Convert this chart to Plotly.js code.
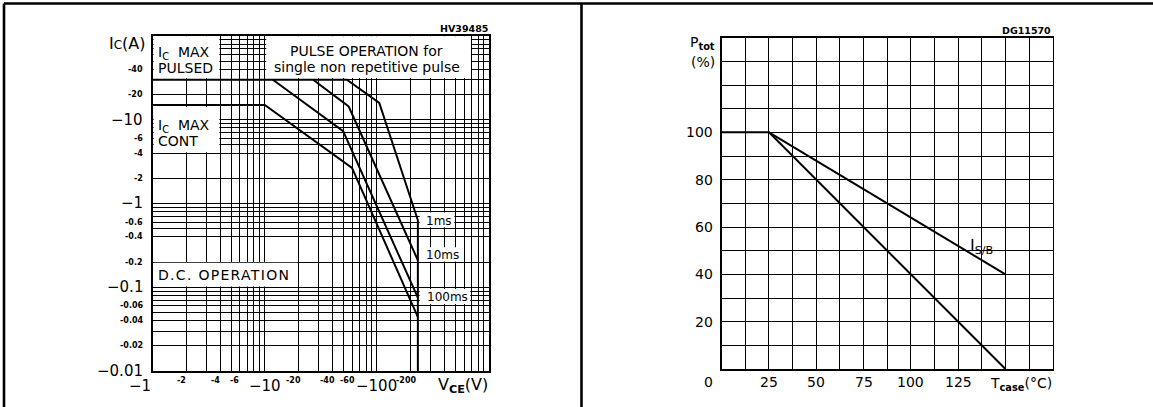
<!DOCTYPE html>
<html>
<head>
<meta charset="utf-8">
<script src="https://cdn.plot.ly/plotly-3.0.1.min.js"></script>
<style>
  html, body { margin: 0; padding: 0; background: #fff; }
  #chart { width: 1153px; height: 407px; }
</style>
</head>
<body>
<div id="chart"></div>
<script>
// ---------------- DATA ----------------
// Left chart: safe operating area (values are negative, plotted by magnitude)
const vce1ms   = [1, 54, 105, 232, 232];
const ic1ms    = [30, 30, 15.9, 0.63, 0.01];
const vce10ms  = [27, 56, 232];
const ic10ms   = [30, 14.4, 0.21];
const vce100ms = [11.8, 50, 232];
const ic100ms  = [30, 7.3, 0.075];
const vceDC    = [1, 10, 60, 232];
const icDC     = [15, 15, 2.66, 0.044];

const vceTickBigVals   = [1, 10, 100];
const vceTickBigText   = ['\u22121', '\u221210', '\u2212100'];
const vceTickSmallVals = [2, 4, 6, 20, 40, 60, 200];
const vceTickSmallText = ['-2', '-4', '-6', '-20', '-40', '-60', '-200'];
const icTickBigVals    = [10, 1, 0.1, 0.01];
const icTickBigText    = ['\u221210', '\u22121', '\u22120.1', '\u22120.01'];
const icTickSmallVals  = [40, 20, 6, 4, 2, 0.6, 0.4, 0.2, 0.06, 0.04, 0.02];
const icTickSmallText  = ['-40', '-20', '-6', '-4', '-2', '-0.6', '-0.4', '-0.2', '-0.06', '-0.04', '-0.02'];

const vceGrid = [1, 2, 3, 4, 5, 6, 7, 8, 9, 10, 20, 30, 40, 50, 60, 70, 80, 90,
                 100, 200, 300, 400, 500, 600, 700, 800, 900, 1000];
const icGrid  = [0.01, 0.02, 0.03, 0.04, 0.05, 0.06, 0.07, 0.08, 0.09,
                 0.1, 0.2, 0.4, 0.5, 0.6, 0.7, 0.8, 0.9,
                 1, 2, 4, 5, 6, 7, 8, 9, 10, 20, 30, 40, 50, 60, 70, 80, 90, 100];

// Right chart: power derating
const tcase      = [0, 25, 150];
const ptotCurve  = [100, 100, 0];
const tcaseSB    = [25, 150];
const isbCurve   = [100, 40];
const tTickVals  = [25, 50, 75, 100, 125];
const tTickText  = ['25', '50', '75', '100', '125'];
const pTickVals  = [20, 40, 60, 80, 100];
const pTickText  = ['20', '40', '60', '80', '100'];
const tGrid = [0, 12.5, 25, 37.5, 50, 62.5, 75, 87.5, 100, 112.5, 125, 137.5, 150, 162.5, 175];
const pGrid = [0, 10, 20, 30, 40, 50, 60, 70, 80, 90, 100, 110, 120, 130, 140];

// ---------------- LAYOUT HELPERS ----------------
const W = 1153, H = 407;
const px = x => x / W;
const py = y => 1 - y / H;
const L = Math.log10;
const FONT = 'DejaVu Sans';
const black = '#000';

function line(x, y, xa, ya) {
  return { x: x, y: y, xaxis: xa, yaxis: ya, type: 'scatter', mode: 'lines',
           line: { color: black, width: 2 }, hoverinfo: 'skip', showlegend: false };
}

const traces = [
  line(vce1ms, ic1ms, 'x', 'y'),
  line(vce10ms, ic10ms, 'x', 'y'),
  line(vce100ms, ic100ms, 'x', 'y'),
  line(vceDC, icDC, 'x', 'y'),
  line(tcase, ptotCurve, 'x2', 'y2'),
  line(tcaseSB, isbCurve, 'x2', 'y2')
];

const ann = [];
function txt(o) {
  ann.push(Object.assign({ showarrow: false, font: { family: FONT, size: 14, color: black } }, o));
}
const f = s => ({ family: FONT, size: s, color: black });

// left x tick labels
vceTickBigVals.forEach((v, i) => txt({ xref: 'x', yref: 'paper', x: L(v), y: py(386),
  text: vceTickBigText[i], xanchor: i === 0 ? 'right' : 'center', yanchor: 'middle', font: f(15) }));
vceTickSmallVals.forEach((v, i) => txt({ xref: 'x', yref: 'paper', x: L(v), y: py(380),
  text: '<b>' + vceTickSmallText[i] + '</b>', xanchor: 'center', xshift: -5, yanchor: 'middle', font: f(8) }));
// left y tick labels
icTickBigVals.forEach((v, i) => txt({ xref: 'paper', yref: 'y', x: px(145), y: L(v),
  text: icTickBigText[i], xanchor: 'right', yanchor: 'middle', font: f(15) }));
icTickSmallVals.forEach((v, i) => txt({ xref: 'paper', yref: 'y', x: px(145), y: L(v),
  text: '<b>' + icTickSmallText[i] + '</b>', xanchor: 'right', yanchor: 'middle', font: f(8) }));
// right x / y tick labels
tTickVals.forEach((v, i) => txt({ xref: 'x2', yref: 'paper', x: v, y: py(382),
  text: tTickText[i], xanchor: 'center', yanchor: 'middle', font: f(14) }));
pTickVals.forEach((v, i) => txt({ xref: 'paper', yref: 'y2', x: px(715), y: v,
  text: pTickText[i], xanchor: 'right', yanchor: 'middle', font: f(14) }));
txt({ xref: 'paper', yref: 'paper', x: px(715), y: py(382), text: '0', xanchor: 'right', yanchor: 'middle', font: f(14) });

// axis titles & labels
txt({ xref: 'paper', yref: 'paper', x: px(148), y: py(43), xanchor: 'right', yanchor: 'middle',
  text: 'I<span style="font-size:12px">C</span>(A)', font: f(16) });
txt({ xref: 'paper', yref: 'paper', x: px(490), y: py(385), xanchor: 'right', yanchor: 'middle',
  text: 'V<sub><b>CE</b></sub>(V)', font: f(16) });
txt({ xref: 'paper', yref: 'paper', x: px(490), y: py(29), xanchor: 'right', yanchor: 'middle',
  text: '<b>HV39485</b>', font: f(9.5) });
txt({ xref: 'paper', yref: 'paper', x: px(1053), y: py(30), xanchor: 'right', yanchor: 'middle',
  text: '<b>DG11570</b>', font: f(9.5) });
txt({ xref: 'paper', yref: 'paper', x: px(717), y: py(43), xanchor: 'right', yanchor: 'middle',
  text: 'P<sub><b>tot</b></sub>', font: f(14) });
txt({ xref: 'paper', yref: 'paper', x: px(717), y: py(62), xanchor: 'right', yanchor: 'middle',
  text: '(%)', font: f(14) });
txt({ xref: 'paper', yref: 'paper', x: px(1054), y: py(384), xanchor: 'right', yanchor: 'middle',
  text: 'T<sub><b>case</b></sub>(\u00B0C)', font: f(14) });
txt({ xref: 'paper', yref: 'paper', x: px(968), y: py(246), xanchor: 'left', yanchor: 'middle',
  text: 'I<sub>S/B</sub>', font: f(16) });

// box texts in left chart
txt({ xref: 'paper', yref: 'paper', x: px(156), y: py(53), xanchor: 'left', yanchor: 'middle', text: 'I<sub>C</sub>  MAX' });
txt({ xref: 'paper', yref: 'paper', x: px(156), y: py(68), xanchor: 'left', yanchor: 'middle', text: 'PULSED' });
txt({ xref: 'paper', yref: 'paper', x: px(156), y: py(126), xanchor: 'left', yanchor: 'middle', text: 'I<sub>C</sub>  MAX' });
txt({ xref: 'paper', yref: 'paper', x: px(156), y: py(141), xanchor: 'left', yanchor: 'middle', text: 'CONT' });
txt({ xref: 'paper', yref: 'paper', x: px(366), y: py(51), xanchor: 'center', yanchor: 'middle', text: 'PULSE OPERATION for' });
txt({ xref: 'paper', yref: 'paper', x: px(367), y: py(67), xanchor: 'center', yanchor: 'middle', text: 'single non repetitive pulse' });
txt({ xref: 'paper', yref: 'paper', x: px(156), y: py(275), xanchor: 'left', yanchor: 'middle',
  text: '<span style="letter-spacing:1.3px">D.C. OPERATION</span>' });
txt({ xref: 'paper', yref: 'paper', x: px(424), y: py(221), xanchor: 'left', yanchor: 'middle', text: '1ms', font: f(12) });
txt({ xref: 'paper', yref: 'paper', x: px(424), y: py(255), xanchor: 'left', yanchor: 'middle', text: '10ms', font: f(12) });
txt({ xref: 'paper', yref: 'paper', x: px(425), y: py(297), xanchor: 'left', yanchor: 'middle', text: '100ms', font: f(12) });

// white boxes hiding the grid behind the texts (inset from the curves);
// shapes on log axes take data values directly
function box(x0, x1, y0, y1) {
  return { type: 'rect', xref: 'x', yref: 'y', x0: x0, x1: x1, y0: y0, y1: y1,
           fillcolor: '#fff', line: { width: 0 }, layer: 'above' };
}
const shapes = [
  box(1.018, 3.93, 31.6, 99.4),
  box(1.018, 3.93, 4.08, 14.3),
  box(10.3, 690, 31.6, 99.4),
  box(1.018, 19.5, 0.102, 0.196),
  box(241, 490, 0.52, 0.78),
  box(241, 515, 0.203, 0.30),
  box(241, 680, 0.063, 0.095)
];
// outer frame
function frame(x0, y0, x1, y1) {
  return { type: 'line', xref: 'paper', yref: 'paper', x0: px(x0), y0: py(y0), x1: px(x1), y1: py(y1),
           line: { color: black, width: 2.6 }, layer: 'above' };
}
shapes.push(frame(4, 3.5, 1153, 3.5));
shapes.push(frame(4, 3.5, 4, 407));
shapes.push(frame(581.5, 3.5, 581.5, 407));

const axBase = { showticklabels: false, ticks: '', showgrid: true, gridcolor: black, gridwidth: 1,
                 showline: true, mirror: true, linecolor: black, linewidth: 1.6, zeroline: false,
                 fixedrange: true, tickmode: 'array' };

const layout = {
  width: W, height: H,
  margin: { l: 0, r: 0, t: 0, b: 0 },
  paper_bgcolor: '#fff', plot_bgcolor: '#fff',
  showlegend: false,
  xaxis:  Object.assign({}, axBase, { type: 'log', range: [0, 3], tickvals: vceGrid,
            domain: [px(152.7), px(489)], anchor: 'y' }),
  yaxis:  Object.assign({}, axBase, { type: 'log', range: [-2, 2], tickvals: icGrid,
            domain: [py(371), py(36)], anchor: 'x' }),
  xaxis2: Object.assign({}, axBase, { range: [0, 175], tickvals: tGrid,
            domain: [px(721.7), px(1052.7)], anchor: 'y2' }),
  yaxis2: Object.assign({}, axBase, { range: [0, 140], tickvals: pGrid,
            domain: [py(369), py(37.7)], anchor: 'x2' }),
  annotations: ann,
  shapes: shapes
};

Plotly.newPlot('chart', traces, layout, { displayModeBar: false, staticPlot: true });
</script>
</body>
</html>
